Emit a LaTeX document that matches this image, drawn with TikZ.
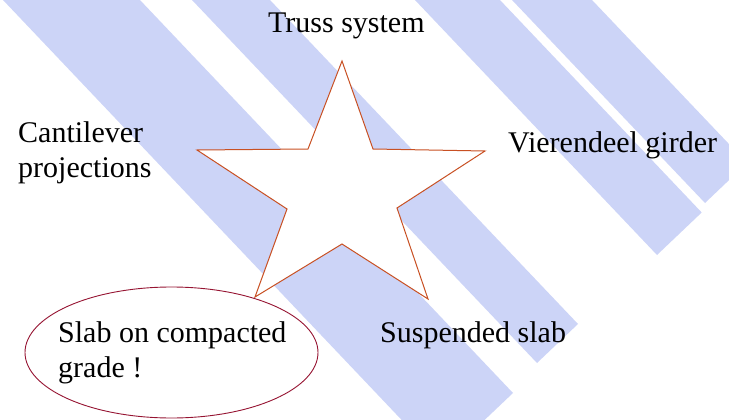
\documentclass[tikz,border=0pt]{standalone}
\usepackage{fontspec}
\setmainfont{Liberation Serif}
\usepackage{tikz}
\usetikzlibrary{shapes.geometric, positioning}
\definecolor{myband}{RGB}{204,212,247}
\definecolor{mystar}{RGB}{200,80,35}
\definecolor{myring}{RGB}{150,20,50}
\tikzset{
  band/.style={fill=myband, draw=none},
  starline/.style={draw=mystar, fill=white, line width=1pt, line join=miter},
  ring/.style={ellipse, draw=myring, fill=white, line width=0.9pt,
    inner sep=0pt, minimum width=293pt, minimum height=131pt},
  lbl/.style={inner sep=0pt, anchor=base west, align=left,
    font=\rmfamily\fontsize{30}{35}\selectfont, text=black}
}

\begin{document}
\begin{tikzpicture}[x=1pt, y=-1pt]
  \useasboundingbox (0,0) rectangle (729,420);

  % Diagonal bands in the background
  \begin{scope}
    \clip (0,0) rectangle (729,420);
    \fill[band] (-16,-20) -- (121,-20) -- (513,393) -- (441,461.4) -- cycle;
    \fill[band] (173,-20) -- (251,-20) -- (578,324) -- (537,363) -- cycle;
    \fill[band] (396,-20) -- (481,-20) -- (701.7,212.5) -- (657,255) -- cycle;
    \fill[band] (493,-20) -- (573,-20) -- (747,163) -- (705,203) -- cycle;
  \end{scope}

  % Star
  \draw[starline] (342,61) -- (373,149) -- (485,151) -- (397,208) -- (428,299)
    -- (342,244) -- (255,297) -- (287,209) -- (197,150) -- (308,149) -- cycle;

  % Ring round the slab label
  \node[ring] (slabring) at (171.5,352.5) {};

  % Labels (base anchor sits on the last line)
  \node[lbl] (truss) at (268,33) {Truss system};
  \node[lbl] (cant) at (18,177) {Cantilever\\projections};
  \node[lbl] (vier) at (508,153) {Vierendeel girder};
  \node[lbl] (susp) at (380,342) {Suspended slab};
  \node[lbl] (slab) at (58,377) {Slab on compacted\\grade !};
\end{tikzpicture}
\end{document}
